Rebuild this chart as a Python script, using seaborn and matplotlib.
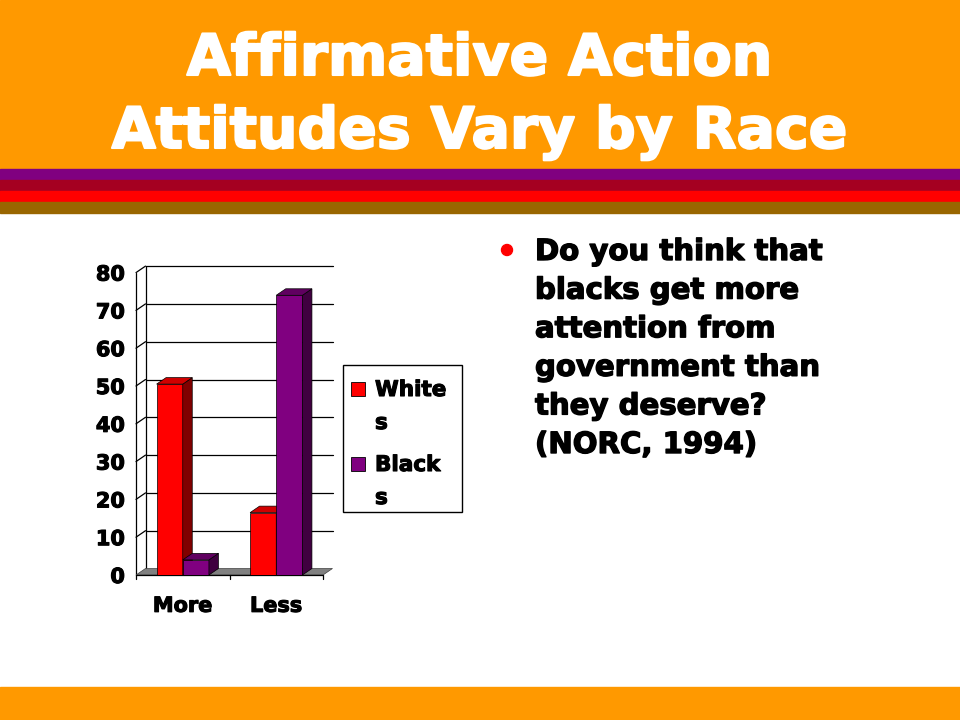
import matplotlib
matplotlib.use("Agg")
import numpy as np
import pandas as pd
import matplotlib.pyplot as plt
import matplotlib.patheffects as pe
import seaborn as sns
from matplotlib.patches import Rectangle, Polygon, Ellipse
from matplotlib.lines import Line2D
from matplotlib.transforms import IdentityTransform

# data
answers = ["More", "Less"]
races = ["Whites", "Blacks"]
whites = [50.5, 16.5]
blacks = [4, 74]
legend_labels = ["White\ns", "Black\ns"]
y_ticks = list(range(0, 81, 10))

title_lines = ["Affirmative Action", "Attitudes Vary by Race"]
bullet_lines = ["Do you think that", "blacks get more", "attention from",
                "government than", "they deserve?", "(NORC, 1994)"]

ORANGE = "#FF9900"
RED = "#FF0000"
PURPLE = "#800080"
side_colors = {RED: "#800000", PURPLE: "#400040"}
top_colors = {RED: "#D00000", PURPLE: "#600060"}

W, H = 960, 720
DX, DY = 9.5, 6.5  # 3d depth in pixels


def heavy(color, lw=1.0):
    # thicken DejaVu Bold a little towards the slide's Arial Black look
    return [pe.withStroke(linewidth=lw, foreground=color)]


sns.set_theme(style="white")
plt.rcParams["font.family"] = ["DejaVu Sans"]
plt.rcParams["font.weight"] = "bold"

fig = plt.figure(figsize=(9.6, 7.2), dpi=100)
fig.patch.set_facecolor("white")


def band(y0, y1, color):
    fig.add_artist(Rectangle((0, 1 - y1 / H), 1, (y1 - y0) / H,
                             transform=fig.transFigure, color=color, zorder=0))


# header, stripes and footer
band(0, 169, ORANGE)
band(169, 180, "#800080")
band(180, 191, "#A50021")
band(191, 202, "#FF0000")
band(202, 213, "#996600")
band(687, 720, ORANGE)

for i, line in enumerate(title_lines):
    fig.text(0.5, 1 - (75 + 73 * i) / H, line, ha="center", va="baseline",
             color="white", fontsize=41, fontweight="bold",
             path_effects=heavy("white", 1.5))

fig.add_artist(Ellipse((507 / W, 1 - 250 / H), 11 / W, 11 / H,
                       transform=fig.transFigure, color=RED))
for i, line in enumerate(bullet_lines):
    fig.text(535 / W, 1 - (260 + 38.6 * i) / H, line, ha="left",
             va="baseline", color="black", fontsize=21, fontweight="bold",
             path_effects=heavy("black", 1.0))

# chart (front plane)
df = pd.DataFrame({
    "answer": answers * 2,
    "race": [races[0]] * 2 + [races[1]] * 2,
    "percent": whites + blacks,
})

ax = fig.add_axes([136 / W, 1 - 575 / H, (323 - 136) / W, (575 - 272.6) / H])
sns.barplot(data=df, x="answer", y="percent", hue="race", order=answers,
            hue_order=races, palette=[RED, PURPLE], width=0.56, saturation=1,
            edgecolor="black", linewidth=0.5, legend=False, ax=ax)
bars = [b for b in ax.patches if isinstance(b, Rectangle) and b.get_height() > 0]
bars = sorted(bars, key=lambda b: b.get_x())

ax.set_xlim(-0.5, 1.5)
ax.set_ylim(0, 80)
ax.set_yticks(y_ticks)
ax.set_xlabel("")
ax.set_ylabel("")
ax.patch.set_alpha(0)
for s in ax.spines.values():
    s.set_visible(False)
ax.tick_params(axis="y", length=0, pad=8, labelsize=15)
ax.tick_params(axis="x", length=0, pad=15, labelsize=15)
for lab in ax.get_xticklabels() + ax.get_yticklabels():
    lab.set_fontweight("bold")
    lab.set_color("black")
    lab.set_path_effects(heavy("black", 0.8))


def px(x, y, back=False):
    p = ax.transData.transform((x, y))
    if back:
        p = p + np.array([DX, DY])
    return p


def face(points, color, z, ec="black"):
    ax.add_patch(Polygon(points, closed=True, facecolor=color, edgecolor=ec,
                         linewidth=0.5, transform=IdentityTransform(),
                         zorder=z, clip_on=False))


def seg(p0, p1, z=1, lw=0.9):
    ax.add_line(Line2D([p0[0], p1[0]], [p0[1], p1[1]], color="black",
                       linewidth=lw, transform=IdentityTransform(),
                       zorder=z, clip_on=False))


# back wall grid lines, left wall edges and the slanted ticks
for t in y_ticks[1:]:
    seg(px(-0.5, t, True), px(1.5, t, True))
    seg(px(-0.5, t), px(-0.5, t, True))
seg(px(-0.5, 0, True), px(-0.5, 80, True))
seg(px(-0.5, 0), px(-0.5, 80))

# floor
face([px(-0.5, 0), px(1.5, 0), px(1.5, 0, True), px(-0.5, 0, True)],
     "#808080", 1.5, ec="#404040")
seg(px(-0.5, 0), px(1.5, 0), z=1.6)
for xt in [-0.5, 0.5, 1.5]:
    p = px(xt, 0)
    seg(p, p + np.array([0, -4]), z=1.6)

# 3d faces for each bar
for i, b in enumerate(bars):
    z = 3 + 2 * i
    b.set_zorder(z)
    x0, x1, h = b.get_x(), b.get_x() + b.get_width(), b.get_height()
    col = RED if np.allclose(b.get_facecolor()[:3], (1, 0, 0)) else PURPLE
    face([px(x1, 0), px(x1, h), px(x1, h, True), px(x1, 0, True)],
         side_colors[col], z + 0.5)
    face([px(x0, h), px(x1, h), px(x1, h, True), px(x0, h, True)],
         top_colors[col], z + 0.6)

# legend box
fig.add_artist(Rectangle((343 / W, 1 - 512 / H), (462 - 343) / W, (512 - 365) / H,
                         transform=fig.transFigure, facecolor="white",
                         edgecolor="black", linewidth=1))
for i, (lab, col) in enumerate(zip(legend_labels, [RED, PURPLE])):
    ytop = 382 + 75 * i
    fig.add_artist(Rectangle((351 / W, 1 - (ytop + 14) / H), 14 / W, 14 / H,
                             transform=fig.transFigure, facecolor=col,
                             edgecolor="black", linewidth=0.6))
    for j, part in enumerate(lab.split("\n")):
        fig.text(375 / W, 1 - (ytop + 14 + 33 * j) / H, part, ha="left",
                 va="baseline", fontsize=15.5, fontweight="bold", color="black",
                 path_effects=heavy("black", 0.8))

fig.savefig("out.png", dpi=100)
